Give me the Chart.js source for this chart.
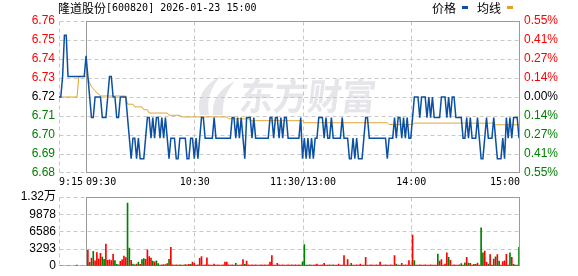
<!DOCTYPE html>
<html><head><meta charset="utf-8">
<script src="https://cdn.jsdelivr.net/npm/chart.js@4.4.1/dist/chart.umd.min.js"></script>
<style>
html,body{margin:0;padding:0;background:#fff;}
#wrap{position:relative;width:578px;height:276px;overflow:hidden;background:#fff;}
canvas{position:absolute;left:0;top:0;}
</style></head><body>
<div id="wrap"><canvas id="c1" width="578" height="276"></canvas><canvas id="c2" width="578" height="276"></canvas></div>
<script>
// ---------------- data ----------------
const stockName = '隆道股份';
const stockInfo = '[600820] 2026-01-23 15:00';
const legendPrice = '价格';
const legendAvg = '均线';
const watermarkText = '东方财富';
const timeLabels = ['9:15', '09:30', '10:30', '11:30/13:00', '14:00', '15:00'];
const timeTickIdx = [0, 15, 75, 135, 195, 255];
const prevClose = 6.72;
const pctRange = 0.55;
const priceTickLabels = ['6.68', '6.69', '6.70', '6.71', '6.72', '6.73', '6.74', '6.75', '6.76'];
const pctTickLabels = ['0.55%', '0.41%', '0.27%', '0.14%', '0.00%', '0.14%', '0.27%', '0.41%', '0.55%'];
const volTickValues = [0, 3293, 6586, 9878, 13172];
const volTickLabels = ['0', '3293', '6586', '9878', '1.32万'];

const price = [
6.72,6.72,6.73,6.75,6.75,6.73,6.73,6.73,6.73,6.73,
6.73,6.73,6.73,6.73,6.73,6.74,6.73,6.72,6.71,6.71,
6.72,6.72,6.72,6.72,6.71,6.71,6.71,6.72,6.73,6.73,
6.72,6.72,6.71,6.71,6.72,6.72,6.72,6.72,6.71,6.70,
6.69,6.70,6.70,6.69,6.70,6.69,6.69,6.69,6.70,6.71,
6.71,6.70,6.71,6.70,6.71,6.71,6.70,6.71,6.70,6.71,
6.70,6.69,6.70,6.70,6.70,6.69,6.69,6.70,6.70,6.70,
6.70,6.69,6.69,6.70,6.70,6.69,6.70,6.69,6.70,6.71,
6.71,6.70,6.70,6.70,6.70,6.70,6.71,6.70,6.70,6.70,
6.70,6.70,6.70,6.70,6.70,6.70,6.71,6.71,6.70,6.71,
6.70,6.71,6.70,6.69,6.71,6.71,6.71,6.70,6.71,6.70,
6.70,6.70,6.70,6.70,6.70,6.70,6.70,6.71,6.71,6.70,
6.71,6.71,6.70,6.71,6.70,6.71,6.71,6.70,6.70,6.70,
6.70,6.70,6.70,6.70,6.71,6.69,6.70,6.69,6.70,6.69,
6.70,6.69,6.70,6.70,6.71,6.71,6.71,6.70,6.71,6.70,
6.70,6.71,6.70,6.70,6.70,6.70,6.70,6.71,6.70,6.70,
6.70,6.69,6.69,6.70,6.69,6.70,6.69,6.69,6.69,6.70,
6.71,6.71,6.70,6.70,6.70,6.70,6.70,6.70,6.70,6.70,
6.70,6.70,6.69,6.70,6.70,6.70,6.71,6.70,6.71,6.71,
6.70,6.71,6.70,6.71,6.70,6.70,6.71,6.72,6.72,6.72,
6.71,6.72,6.72,6.72,6.71,6.72,6.71,6.72,6.71,6.71,
6.71,6.71,6.72,6.72,6.72,6.71,6.72,6.71,6.72,6.72,
6.71,6.71,6.71,6.71,6.70,6.70,6.71,6.70,6.71,6.70,
6.70,6.70,6.71,6.70,6.69,6.69,6.70,6.71,6.70,6.70,
6.70,6.71,6.70,6.69,6.69,6.69,6.70,6.69,6.71,6.70,
6.71,6.70,6.71,6.71,6.71,6.70
];

const avgPrice = [
6.72,6.72,6.72,6.72,6.72,6.72,6.72,6.72,6.72,6.72,
6.72,6.73,6.73,6.73,6.73,6.73,6.729,6.727,6.725,6.724,
6.723,6.722,6.7215,6.7205,6.7205,6.7205,6.7205,6.7205,6.7205,6.7205,
6.7205,6.7205,6.7205,6.7205,6.7205,6.7205,6.7205,6.7205,6.7165,6.7165,
6.7165,6.7165,6.7152,6.7152,6.7152,6.7152,6.7152,6.7138,6.7138,6.7138,
6.7122,6.7122,6.7122,6.7122,6.7122,6.7122,6.7122,6.7122,6.7122,6.7122,
6.7122,6.7111,6.7111,6.7111,6.7111,6.7111,6.7111,6.7111,6.7103,6.7103,
6.7103,6.7103,6.7103,6.7103,6.7103,6.7103,6.7103,6.7103,6.7103,6.7103,
6.7103,6.7103,6.7103,6.7103,6.7103,6.7103,6.7103,6.7103,6.7103,6.7103,
6.7103,6.7103,6.7103,6.7103,6.7094,6.7094,6.7094,6.7094,6.7094,6.7094,
6.7094,6.7094,6.7094,6.7094,6.7094,6.7094,6.7085,6.7085,6.7085,6.7085,
6.7085,6.7085,6.7085,6.7085,6.7085,6.7085,6.7085,6.7085,6.7085,6.7085,
6.7085,6.7085,6.7085,6.7085,6.7085,6.7085,6.7085,6.7085,6.7085,6.7085,
6.7085,6.7085,6.7085,6.7085,6.7085,6.7085,6.7075,6.7075,6.7075,6.7075,
6.7075,6.7075,6.7075,6.7075,6.7075,6.7075,6.7075,6.7075,6.7075,6.7075,
6.7075,6.7075,6.7075,6.7075,6.7075,6.7075,6.7075,6.7075,6.7075,6.7075,
6.7075,6.7075,6.7075,6.7075,6.7075,6.7075,6.7075,6.7075,6.7075,6.7075,
6.7075,6.7075,6.7075,6.7075,6.7075,6.7075,6.7075,6.7075,6.7075,6.7075,
6.7075,6.7075,6.7075,6.7066,6.7066,6.7066,6.7066,6.7066,6.7066,6.7066,
6.7066,6.7066,6.7066,6.7066,6.7066,6.7066,6.7066,6.7073,6.7073,6.7073,
6.7073,6.7073,6.7073,6.7073,6.7073,6.7073,6.7073,6.7073,6.7073,6.7073,
6.7073,6.7073,6.7073,6.7073,6.7073,6.7073,6.7073,6.7073,6.7073,6.7073,
6.7073,6.7073,6.7073,6.7073,6.7073,6.7073,6.7073,6.7073,6.7073,6.7073,
6.7073,6.7073,6.7073,6.7073,6.7073,6.7073,6.7073,6.7073,6.7073,6.7073,
6.7073,6.7073,6.7065,6.7065,6.7065,6.7065,6.7065,6.7065,6.7065,6.7065,
6.7065,6.7065,6.7065,6.7065,6.7065,6.7065
];

const volume = [
0,0,0,0,0,0,0,0,0,0,
150,0,0,0,0,0,3000,670,1500,2790,
950,2510,1340,2400,1670,1230,4180,1060,1120,1000,
2180,1000,280,170,840,1120,1840,1560,12000,3370,
1060,350,180,350,710,300,1180,1360,1240,3080,
1770,1480,890,770,950,410,150,180,240,240,
410,1240,3550,180,150,180,120,200,150,120,
250,180,300,300,710,450,120,200,1420,1770,
150,200,1540,180,150,120,350,150,200,120,
150,200,710,710,180,150,200,120,450,150,
120,200,1180,300,890,200,150,180,120,200,
150,120,180,150,200,120,180,710,1950,150,
120,450,180,150,200,150,120,180,150,200,
120,180,150,200,150,770,4080,150,120,200,
150,120,180,350,150,120,200,470,150,120,
180,150,200,120,150,350,150,120,1950,150,
1180,120,470,150,120,180,150,350,150,120,
1600,150,120,180,150,120,200,150,710,150,
120,180,150,120,200,150,1950,350,150,120,
470,150,200,120,1000,150,5860,1000,150,120,
180,150,120,200,150,120,180,150,120,150,
2250,890,1180,150,350,2490,1600,1060,150,200,
120,150,180,410,150,590,1600,530,470,150,
300,300,530,150,7280,2490,2840,710,350,2130,
150,1300,1710,2130,890,150,830,950,2190,150,
2490,1600,300,150,120,3550
];

const volUp = [
1,1,1,1,1,1,1,1,1,1,
1,1,1,1,1,1,1,0,1,0,
1,1,1,1,0,0,1,1,1,1,
1,0,0,0,1,1,1,1,0,0,
1,0,0,1,0,1,0,0,1,1,
1,1,0,1,0,0,1,1,0,1,
1,0,1,1,0,1,1,0,1,1,
0,1,1,0,1,1,1,1,1,1,
1,1,1,1,1,1,1,1,1,1,
1,1,1,1,1,1,1,0,0,1,
1,1,1,0,1,1,1,1,1,1,
1,1,1,1,1,1,1,1,1,1,
1,1,1,1,1,1,1,1,1,1,
1,1,1,1,1,0,0,0,1,0,
1,1,1,1,1,1,1,1,1,1,
1,1,0,1,1,1,1,1,1,1,
1,1,0,1,1,1,1,1,1,1,
1,1,1,1,1,1,1,1,1,1,
1,1,1,1,1,1,1,0,1,1,
1,0,1,1,1,1,1,0,1,1,
1,1,1,1,1,1,1,1,1,1,
0,1,1,1,1,1,0,1,1,1,
1,1,1,0,1,0,1,0,1,1,
0,1,1,1,0,0,1,1,0,1,
1,1,0,1,0,1,1,1,1,1,
0,1,0,1,1,0
];

// ---------------- styles ----------------
const BLUE = '#0b50a2';
const GOLD = '#e0a228';
const RED = '#ff0000';
const GREEN = '#008000';
const GRID = '#c8c8c8';
const FRAME = '#9a9a9a';
const WM = '#e5e5ea';
const NUM_FONT = "'Liberation Sans', 'Noto Sans CJK SC', sans-serif";
const MONO_FONT = "'DejaVu Sans Mono', monospace";
const CJK_FONT = "'Noto Sans CJK SC', sans-serif";

const yMin = prevClose * (1 - pctRange / 100);
const yMax = prevClose * (1 + pctRange / 100);
const nTicks = priceTickLabels.length;

function drawGrid(chart, yScaleId) {
  const ctx = chart.ctx, xs = chart.scales.x, ys = chart.scales[yScaleId];
  const L = Math.round(xs.getPixelForValue(timeTickIdx[0])) + 0.5;
  const M = Math.round(xs.getPixelForValue(timeTickIdx[1])) + 0.5;
  const R = Math.round(xs.getPixelForValue(timeTickIdx[timeTickIdx.length - 1])) + 0.5;
  const T = Math.round(ys.getPixelForValue(ys.max)) + 0.5;
  const B = Math.round(ys.getPixelForValue(ys.min)) - 0.5;
  ctx.save();
  ctx.lineWidth = 1;
  ctx.strokeStyle = GRID;
  ctx.setLineDash([4, 3]);
  ctx.beginPath();
  ys.ticks.forEach((t, k) => {
    const y = Math.round(ys.getPixelForValue(t.value)) + 0.5;
    if (k === 0 || k === ys.ticks.length - 1) {
      const yy = k === 0 ? B : T;
      ctx.moveTo(L, yy); ctx.lineTo(M, yy);
    } else {
      ctx.moveTo(L, y); ctx.lineTo(R, y);
    }
  });
  ctx.moveTo(L, T); ctx.lineTo(L, B);
  for (let k = 2; k < timeTickIdx.length - 1; k++) {
    const x = Math.round(xs.getPixelForValue(timeTickIdx[k])) + 0.5;
    ctx.moveTo(x, T); ctx.lineTo(x, B);
  }
  ctx.stroke();
  ctx.setLineDash([]);
  ctx.strokeStyle = FRAME;
  ctx.strokeRect(M, T, R - M, B - T);
  ctx.restore();
}

const mainPlugin = {
  id: 'mainDecor',
  beforeDatasetsDraw(chart) {
    const ctx = chart.ctx;
    // watermark
    ctx.save();
    ctx.fillStyle = WM;
    ctx.beginPath();
    ctx.moveTo(200, 115); ctx.quadraticCurveTo(194, 90, 221, 76); ctx.quadraticCurveTo(205, 93, 209, 115); ctx.closePath(); ctx.fill();
    ctx.beginPath();
    ctx.moveTo(213, 115); ctx.quadraticCurveTo(211, 93, 235, 81); ctx.quadraticCurveTo(221, 97, 223, 115); ctx.closePath(); ctx.fill();
    ctx.translate(240, 96);
    ctx.transform(1, 0, -0.12, 1, 0, 0);
    ctx.scale(1, 1.08);
    ctx.font = "bold 34px " + CJK_FONT;
    ctx.textBaseline = 'middle';
    ctx.fillText(watermarkText, 0, 0);
    ctx.restore();
    drawGrid(chart, 'y');
  },
  afterDraw(chart) {
    const ctx = chart.ctx, xs = chart.scales.x;
    ctx.save();
    ctx.fillStyle = '#000';
    ctx.textBaseline = 'middle';
    // title
    ctx.font = "12px " + CJK_FONT;
    ctx.textAlign = 'left';
    ctx.fillText(stockName, 58, 8);
    const w = ctx.measureText(stockName).width;
    ctx.font = "10px " + MONO_FONT;
    ctx.fillText(stockInfo, 58 + w, 8);
    // legend
    ctx.font = "12px " + CJK_FONT;
    ctx.fillText(legendPrice, 432, 8);
    ctx.fillText(legendAvg, 477, 8);
    ctx.fillStyle = BLUE; ctx.fillRect(462, 6, 6, 3);
    ctx.fillStyle = GOLD; ctx.fillRect(507, 6, 6, 3);
    // time labels
    ctx.fillStyle = '#000';
    ctx.font = "10px " + MONO_FONT;
    timeLabels.forEach((lab, k) => {
      const x = xs.getPixelForValue(timeTickIdx[k]);
      if (k <= 1) { ctx.textAlign = 'left'; ctx.fillText(lab, x, 182); }
      else if (k === timeLabels.length - 1) { ctx.textAlign = 'right'; ctx.fillText(lab, x + 1, 182); }
      else { ctx.textAlign = 'center'; ctx.fillText(lab, x + 0.5, 182); }
    });
    ctx.restore();
  }
};

const volPlugin = {
  id: 'volDecor',
  beforeDatasetsDraw(chart) { drawGrid(chart, 'y'); }
};

function tickColor(ctx) {
  const mid = (nTicks - 1) / 2;
  if (ctx.index < mid) return GREEN;
  if (ctx.index === mid) return '#000';
  return RED;
}

function build() {
  const idx = price.map((_, i) => i);
  new Chart(document.getElementById('c1'), {
    type: 'line',
    data: {
      datasets: [
        { data: idx.map(i => ({ x: i, y: price[i] })), borderColor: BLUE, borderWidth: 1.5, pointRadius: 0, tension: 0, fill: false },
        { data: idx.map(i => ({ x: i, y: avgPrice[i] })), borderColor: GOLD, borderWidth: 1, pointRadius: 0, tension: 0, fill: false }
      ]
    },
    options: {
      responsive: false, animation: false, devicePixelRatio: 1,
      layout: { padding: { top: 21, bottom: 103, left: 0, right: 0 } },
      plugins: { legend: { display: false }, tooltip: { enabled: false } },
      events: [],
      scales: {
        x: { type: 'linear', min: timeTickIdx[0], max: timeTickIdx[timeTickIdx.length - 1], display: false },
        y: {
          position: 'left', min: yMin, max: yMax,
          afterFit: s => { s.width = 59; },
          afterBuildTicks: s => { s.ticks = priceTickLabels.map((_, k) => ({ value: yMin + k * (yMax - yMin) / (nTicks - 1) })); },
          ticks: { callback: (v, i) => priceTickLabels[i], color: tickColor, padding: 4, autoSkip: false, font: { family: NUM_FONT, size: 12 } },
          grid: { display: false, drawTicks: false }, border: { display: false }
        },
        y2: {
          position: 'right', min: yMin, max: yMax,
          afterFit: s => { s.width = 59; },
          afterBuildTicks: s => { s.ticks = pctTickLabels.map((_, k) => ({ value: yMin + k * (yMax - yMin) / (nTicks - 1) })); },
          ticks: { callback: (v, i) => pctTickLabels[i], color: tickColor, padding: 5, autoSkip: false, font: { family: NUM_FONT, size: 12 } },
          grid: { display: false, drawTicks: false }, border: { display: false }
        }
      }
    },
    plugins: [mainPlugin]
  });

  new Chart(document.getElementById('c2'), {
    type: 'bar',
    data: {
      datasets: [{
        data: idx.map(i => ({ x: i, y: volume[i] })),
        backgroundColor: volUp.map(u => u ? RED : GREEN),
        barThickness: 1, borderWidth: 0
      }]
    },
    options: {
      responsive: false, animation: false, devicePixelRatio: 1,
      layout: { padding: { top: 197, bottom: 6, left: 0, right: 59 } },
      plugins: { legend: { display: false }, tooltip: { enabled: false } },
      events: [],
      scales: {
        x: { type: 'linear', min: timeTickIdx[0], max: timeTickIdx[timeTickIdx.length - 1], display: false, offset: false },
        y: {
          position: 'left', min: volTickValues[0], max: volTickValues[volTickValues.length - 1],
          afterFit: s => { s.width = 59; },
          afterBuildTicks: s => { s.ticks = volTickValues.map(v => ({ value: v })); },
          ticks: { callback: (v, i) => volTickLabels[i], color: '#000', padding: 3, autoSkip: false, font: { family: NUM_FONT, size: 12 } },
          grid: { display: false, drawTicks: false }, border: { display: false }
        }
      }
    },
    plugins: [volPlugin]
  });
}

const fontLoads = [
  "12px 'Liberation Sans'", "10px 'DejaVu Sans Mono'", "12px 'Noto Sans CJK SC'", "bold 34px 'Noto Sans CJK SC'"
].map(f => document.fonts.load(f, '隆道股份价格均线东方财富万0123'));
Promise.all(fontLoads).then(build, build);
</script>
</body></html>
